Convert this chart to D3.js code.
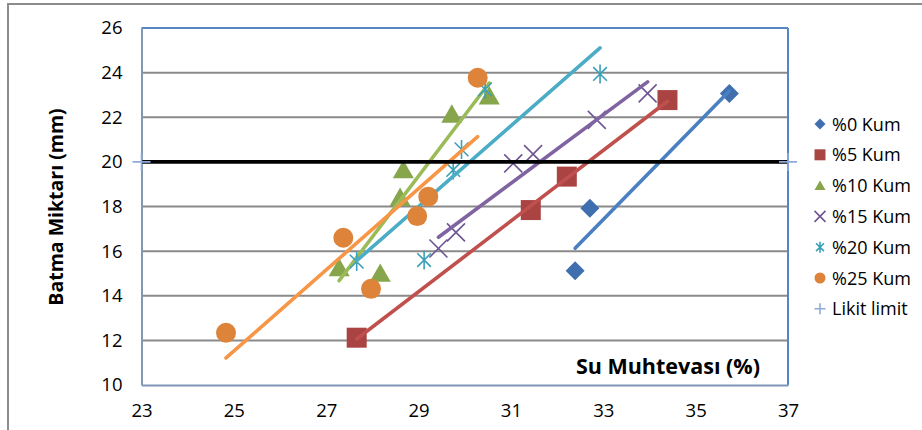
<!DOCTYPE html>
<html>
<head>
<meta charset="utf-8">
<script src="https://cdn.jsdelivr.net/npm/d3@7"></script>
<style>
  body { margin: 0; background: #fff; }
  svg { display: block; font-family: "Open Sans", "Liberation Sans", sans-serif; }
</style>
</head>
<body>
<svg id="chart" width="922" height="430"></svg>
<script>
// Series names shown in the legend
const seriesNames = ["%0 Kum", "%5 Kum", "%10 Kum", "%15 Kum", "%20 Kum", "%25 Kum"];

// Water content (%) and penetration (mm) per sand ratio
const kum0X  = [32.39, 32.71, 35.73];
const kum0Y  = [15.12, 17.92, 23.07];
const kum5X  = [27.66, 31.43, 32.21, 34.39];
const kum5Y  = [12.12, 17.84, 19.34, 22.77];
const kum10X = [27.28, 28.17, 28.60, 28.67, 29.72, 30.53];
const kum10Y = [15.25, 15.00, 18.40, 19.64, 22.13, 22.95];
const kum15X = [29.43, 29.81, 31.05, 31.48, 32.86, 33.96];
const kum15Y = [16.12, 16.84, 19.93, 20.35, 21.88, 23.07];
const kum20X = [27.66, 29.12, 29.75, 29.93, 30.44, 32.93];
const kum20Y = [15.53, 15.60, 19.64, 20.56, 23.25, 23.94];
const kum25X = [24.83, 27.37, 27.97, 28.97, 29.21, 30.28];
const kum25Y = [12.34, 16.60, 14.31, 17.57, 18.44, 23.77];

// Liquid limit reference line (20 mm penetration)
const likitName = "Likit limit";
const likitX = [23, 37];
const likitY = [20, 20];

// Axis ticks
const xTicks = [23, 25, 27, 29, 31, 33, 35, 37];
const yTicks = [10, 12, 14, 16, 18, 20, 22, 24, 26];

const xTitle = "Su Muhtevası (%)";
const yTitle = "Batma Miktarı (mm)";

// Styling per series
const markerColors = ["#3f6fae", "#a94442", "#87a54b", "#6f5591", "#3aa0b9", "#dd843a"];
const lineColors   = ["#4a7fc1", "#c0504d", "#9bbb59", "#8064a2", "#4bacc6", "#f79646"];
const markerTypes  = ["diamond", "square", "triangle", "x", "star", "circle"];

const xsAll = [kum0X, kum5X, kum10X, kum15X, kum20X, kum25X];
const ysAll = [kum0Y, kum5Y, kum10Y, kum15Y, kum20Y, kum25Y];
const series = seriesNames.map((name, i) => ({
  name,
  points: xsAll[i].map((x, j) => ({ x, y: ysAll[i][j] })),
  marker: markerTypes[i],
  mColor: markerColors[i],
  lColor: lineColors[i]
}));

const svg = d3.select("#chart");
const plotLeft = 141.5, plotRight = 788, plotTop = 28, plotBottom = 385;

const x = d3.scaleLinear().domain([23, 37]).range([plotLeft, plotRight]);
const y = d3.scaleLinear().domain([10, 26]).range([plotBottom, plotTop]);

// Outer chart frame
svg.append("rect")
  .attr("x", 8).attr("y", 4).attr("width", 930).attr("height", 440)
  .attr("fill", "#fff").attr("stroke", "#8c8c8c").attr("stroke-width", 2);

// Horizontal gridlines
svg.append("g")
  .selectAll("line")
  .data(yTicks.filter(t => t > 10 && t < 26))
  .join("line")
  .attr("x1", plotLeft).attr("x2", plotRight)
  .attr("y1", d => y(d)).attr("y2", d => y(d))
  .attr("stroke", "#8a8a8a").attr("stroke-width", 2);

// Plot area frame
svg.append("line").attr("x1", plotLeft).attr("x2", plotRight).attr("y1", plotTop).attr("y2", plotTop)
  .attr("stroke", "#5585c4").attr("stroke-width", 2);
svg.append("line").attr("x1", plotRight).attr("x2", plotRight).attr("y1", plotTop).attr("y2", plotBottom)
  .attr("stroke", "#5585c4").attr("stroke-width", 2);

// Axes
const yAxis = svg.append("g")
  .attr("transform", `translate(${plotLeft},0)`)
  .call(d3.axisLeft(y).tickValues(yTicks).tickSize(0).tickPadding(19).tickFormat(d3.format("d")));
yAxis.select(".domain").attr("stroke", "#8497b0").attr("stroke-width", 2);
yAxis.selectAll("text").attr("font-size", 18.5).attr("fill", "#000")
  .attr("font-family", "\"Open Sans\", sans-serif");

const xAxis = svg.append("g")
  .attr("transform", `translate(0,${plotBottom})`)
  .call(d3.axisBottom(x).tickValues(xTicks).tickSize(0).tickPadding(19).tickFormat(d3.format("d")));
xAxis.select(".domain").attr("stroke", "#7f96b8").attr("stroke-width", 2);
xAxis.selectAll("text").attr("font-size", 18.5).attr("fill", "#000")
  .attr("font-family", "\"Open Sans\", sans-serif");

// Linear trendlines spanning each series' x-range
function fit(pts) {
  const mx = d3.mean(pts, p => p.x), my = d3.mean(pts, p => p.y);
  const sxy = d3.sum(pts, p => (p.x - mx) * (p.y - my));
  const sxx = d3.sum(pts, p => (p.x - mx) ** 2);
  const b = sxy / sxx, a = my - b * mx;
  const [x0, x1] = d3.extent(pts, p => p.x);
  return [{ x: x0, y: a + b * x0 }, { x: x1, y: a + b * x1 }];
}

const line = d3.line().x(d => x(d.x)).y(d => y(d.y));

// Marker outlines centred on the origin
function markerPath(type, s) {
  const h = s / 2;
  switch (type) {
    case "diamond": return `M0,${-h}L${h},0L0,${h}L${-h},0Z`;
    case "square": return `M${-h},${-h}H${h}V${h}H${-h}Z`;
    case "triangle": return `M0,${-h * 0.95}L${h},${h * 0.8}L${-h},${h * 0.8}Z`;
    case "circle": return d3.symbol(d3.symbolCircle, Math.PI * h * h)();
    case "x": return `M${-h},${-h}L${h},${h}M${-h},${h}L${h},${-h}`;
    case "star": return `M${-h * 0.72},${-h * 0.72}L${h * 0.72},${h * 0.72}M${-h * 0.72},${h * 0.72}L${h * 0.72},${-h * 0.72}M0,${-h}V${h}`;
    case "plus": return `M${-h},0H${h}M0,${-h}V${h}`;
  }
}
const stroked = t => t === "x" || t === "star" || t === "plus";
const markerSize = { diamond: 19, square: 20, triangle: 21, circle: 20, x: 18, star: 19 };

function drawMarker(g, type, color, size) {
  const p = g.append("path").attr("d", markerPath(type, size));
  if (stroked(type)) p.attr("fill", "none").attr("stroke", color).attr("stroke-width", 1.6);
  else p.attr("fill", color);
  return p;
}

const plot = svg.append("g");

// Markers first, then the trendline on top, series by series
series.forEach(s => {
  const g = plot.append("g");
  s.points.forEach(p => {
    const m = g.append("g").attr("transform", `translate(${x(p.x)},${y(p.y)})`);
    drawMarker(m, s.marker, s.mColor, markerSize[s.marker]);
  });
  g.append("path")
    .attr("d", line(fit(s.points)))
    .attr("fill", "none")
    .attr("stroke", s.lColor)
    .attr("stroke-width", 3.6)
    .attr("stroke-linecap", "round");
});

// Liquid limit line with end markers
const likit = likitX.map((v, i) => ({ x: v, y: likitY[i] }));
plot.append("path")
  .attr("d", line(likit))
  .attr("fill", "none").attr("stroke", "#000").attr("stroke-width", 3.6);
likit.forEach(p => {
  const m = plot.append("g").attr("transform", `translate(${x(p.x)},${y(p.y)})`);
  drawMarker(m, "plus", "#8eaadb", 18);
});

// Axis titles
svg.append("text")
  .attr("x", 760).attr("y", 374)
  .attr("text-anchor", "end")
  .attr("font-size", 21.5).attr("font-weight", "bold")
  .text(xTitle);

svg.append("text")
  .attr("transform", `translate(63,207) rotate(-90)`)
  .attr("text-anchor", "middle")
  .attr("font-size", 19.5).attr("font-weight", "bold")
  .text(yTitle);

// Legend
const legendItems = series.map(s => ({ name: s.name, marker: s.marker, color: s.mColor }))
  .concat([{ name: likitName, marker: "plus", color: "#8eaadb" }]);
const legend = svg.append("g");
legendItems.forEach((d, i) => {
  const row = legend.append("g").attr("transform", `translate(820,${124 + i * 30.8})`);
  drawMarker(row, d.marker, d.color, 11);
  row.append("text")
    .attr("x", 12).attr("y", 6.5)
    .attr("font-size", 18)
    .text(d.name);
});
</script>
</body>
</html>
